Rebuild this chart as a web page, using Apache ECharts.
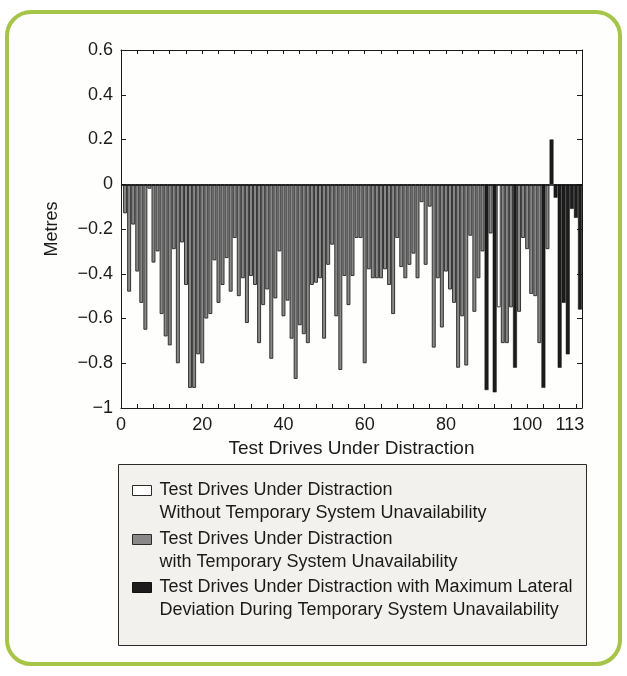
<!DOCTYPE html>
<html>
<head>
<meta charset="utf-8">
<title>Lateral deviation</title>
<script src="https://cdn.jsdelivr.net/npm/echarts@6/dist/echarts.min.js"></script>
<style>
html, body { margin: 0; padding: 0; background: #ffffff; }
#frame { position: absolute; left: 5px; top: 10px; width: 609px; height: 648px;
         border: 4px solid #a6c447; border-radius: 26px; background: #fefefc; }
#chart { position: absolute; left: 0; top: 0; width: 627px; height: 676px; }
</style>
</head>
<body>
<div id="frame"></div>
<div id="chart"></div>
<script>
//-----data (metres, one value per test drive 1..113)
var deviation = [
    -0.13, -0.48, -0.18, -0.39, -0.53, -0.65, -0.02, -0.35, -0.30, -0.58,
    -0.68, -0.72, -0.29, -0.80, -0.26, -0.45, -0.91, -0.91, -0.76, -0.80,
    -0.60, -0.58, -0.34, -0.53, -0.45, -0.33, -0.48, -0.24, -0.50, -0.42,
    -0.62, -0.41, -0.45, -0.71, -0.54, -0.47, -0.78, -0.51, -0.30, -0.59,
    -0.52, -0.69, -0.87, -0.63, -0.67, -0.71, -0.45, -0.44, -0.42, -0.69,
    -0.36, -0.27, -0.59, -0.83, -0.41, -0.54, -0.41, -0.24, -0.24, -0.80,
    -0.38, -0.42, -0.42, -0.42, -0.38, -0.45, -0.58, -0.24, -0.37, -0.42,
    -0.36, -0.31, -0.42, -0.08, -0.36, -0.10, -0.73, -0.42, -0.64, -0.39,
    -0.47, -0.53, -0.82, -0.59, -0.81, -0.23, -0.57, -0.42, -0.30, -0.92,
    -0.22, -0.93, -0.55, -0.71, -0.71, -0.55, -0.82, -0.57, -0.24, -0.29,
    -0.49, -0.50, -0.71, -0.91, -0.29, 0.20, -0.06, -0.82, -0.53, -0.76,
    -0.11, -0.15, -0.56
];
// drives drawn black (max lateral deviation during unavailability)
var blackDrives = [90, 92, 97, 104, 106, 107, 108, 109, 110, 111, 112, 113];
// drives drawn white (no temporary system unavailability)
var whiteDrives = [93];

var xTickLabels = [0, 20, 40, 60, 80, 100, 113];
var yTicks = [-1, -0.8, -0.6, -0.4, -0.2, 0, 0.2, 0.4, 0.6];

var seriesNames = [
    'Test Drives Under Distraction\nWithout Temporary System Unavailability',
    'Test Drives Under Distraction\nwith Temporary System Unavailability',
    'Test Drives Under Distraction with Maximum Lateral\nDeviation During Temporary System Unavailability'
];

var FONT = '"Liberation Sans", Arial, Helvetica, sans-serif';
var INK = '#1b1b1b';

//-----split drives into the three groups
var whiteData = [], grayData = [], blackData = [];
deviation.forEach(function (v, i) {
    var drive = i + 1;
    if (blackDrives.indexOf(drive) >= 0) blackData.push([drive, v]);
    else if (whiteDrives.indexOf(drive) >= 0) whiteData.push([drive, v]);
    else grayData.push([drive, v]);
});

var minorTicks = [];
for (var t = 0; t <= 112; t += 4) minorTicks.push(t);

var chart = echarts.init(document.getElementById('chart'));

var barCommon = {
    type: 'bar',
    barWidth: 3.9,
    barGap: '-100%',
    silent: true
};

var option = {
    animation: false,
    grid: { left: 121, right: 45, top: 50, bottom: 268 },
    xAxis: [{
        type: 'value',
        min: 0,
        max: 113.5,
        position: 'bottom',
        name: 'Test Drives Under Distraction',
        nameLocation: 'middle',
        nameGap: 28,
        nameTextStyle: { fontFamily: FONT, fontSize: 19, color: INK },
        axisLine: { onZero: false, lineStyle: { color: INK, width: 1 } },
        axisTick: { inside: true, length: 4, customValues: minorTicks, lineStyle: { color: INK } },
        axisLabel: {
            customValues: xTickLabels,
            margin: 8,
            fontFamily: FONT,
            fontSize: 18,
            color: INK,
            formatter: function (v) { return v === 113 ? '{last|113}' : String(v); },
            rich: { last: { fontFamily: FONT, fontSize: 18, color: INK, padding: [0, 20, 0, 0] } }
        },
        splitLine: { show: false }
    }, {
        type: 'value',
        min: 0,
        max: 113.5,
        position: 'top',
        axisLine: { onZero: false, lineStyle: { color: INK, width: 1 } },
        axisTick: { inside: true, length: 4, customValues: minorTicks, lineStyle: { color: INK } },
        axisLabel: { show: false },
        splitLine: { show: false }
    }],
    yAxis: [{
        type: 'value',
        min: -1,
        max: 0.6,
        interval: 0.2,
        position: 'left',
        name: 'Metres',
        nameLocation: 'middle',
        nameGap: 60,
        nameTextStyle: { fontFamily: FONT, fontSize: 18, color: INK },
        axisLine: { show: true, onZero: false, lineStyle: { color: INK, width: 1 } },
        axisTick: { show: true, inside: true, length: 5, lineStyle: { color: INK } },
        axisLabel: {
            customValues: yTicks,
            margin: 8,
            fontFamily: FONT,
            fontSize: 18,
            color: INK,
            formatter: function (v) {
                var s = Math.abs(v) < 1e-9 ? '0' : String(Math.round(v * 10) / 10);
                return s.replace('-', '\u2212');
            }
        },
        splitLine: { show: false }
    }, {
        type: 'value',
        min: -1,
        max: 0.6,
        interval: 0.2,
        position: 'right',
        axisLine: { show: true, onZero: false, lineStyle: { color: INK, width: 1 } },
        axisTick: { show: true, inside: true, length: 5, lineStyle: { color: INK } },
        axisLabel: { show: false },
        splitLine: { show: false }
    }],
    series: [
        Object.assign({}, barCommon, {
            name: seriesNames[1],
            data: grayData,
            itemStyle: { color: '#888888', borderColor: '#262626', borderWidth: 0.9 },
            markLine: {
                silent: true,
                symbol: 'none',
                label: { show: false },
                lineStyle: { color: '#111111', width: 1.6, type: 'solid' },
                data: [{ yAxis: 0 }]
            }
        }),
        Object.assign({}, barCommon, {
            name: seriesNames[0],
            data: whiteData,
            itemStyle: { color: '#ffffff', borderColor: '#262626', borderWidth: 0.9 }
        }),
        Object.assign({}, barCommon, {
            name: seriesNames[2],
            data: blackData,
            itemStyle: { color: '#1c1c1c', borderColor: '#111111', borderWidth: 0.5 }
        })
    ],
    graphic: [{
        type: 'group',
        left: 118,
        top: 464,
        children: [{
            type: 'rect',
            shape: { x: 0, y: 0, width: 468, height: 181 },
            style: { fill: '#f2f1ee', stroke: '#2a2a2a', lineWidth: 1 }
        }, {
            type: 'rect',
            shape: { x: 14, y: 21, width: 19, height: 10 },
            style: { fill: '#ffffff', stroke: '#2a2a2a', lineWidth: 1 }
        }, {
            type: 'text',
            x: 41, y: 14,
            style: { text: seriesNames[0], font: '18px ' + FONT, fill: INK, lineHeight: 23 }
        }, {
            type: 'rect',
            shape: { x: 14, y: 70, width: 19, height: 10 },
            style: { fill: '#888888', stroke: '#2a2a2a', lineWidth: 1 }
        }, {
            type: 'text',
            x: 41, y: 63,
            style: { text: seriesNames[1], font: '18px ' + FONT, fill: INK, lineHeight: 23 }
        }, {
            type: 'rect',
            shape: { x: 14, y: 118, width: 19, height: 10 },
            style: { fill: '#1c1c1c', stroke: '#111111', lineWidth: 1 }
        }, {
            type: 'text',
            x: 41, y: 111,
            style: { text: seriesNames[2], font: '18px ' + FONT, fill: INK, lineHeight: 23 }
        }]
    }]
};

chart.setOption(option);
</script>
</body>
</html>
